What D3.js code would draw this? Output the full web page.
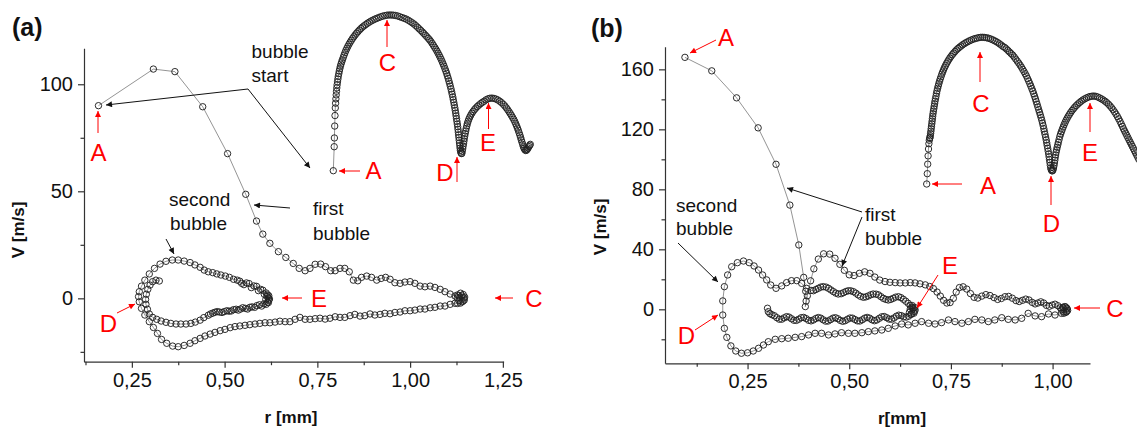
<!DOCTYPE html>
<html>
<head>
<meta charset="utf-8">
<script src="https://cdn.jsdelivr.net/npm/d3@7"></script>
<style>
  body { margin: 0; background: #fff; }
  svg text { font-family: "Liberation Sans", Arial, sans-serif; }
</style>
</head>
<body>
<script>
// ---------- data: phase portraits, [r mm, V m/s] ----------
var aFirstExpansion = [
  [0.160,90.0],[0.308,107.1],[0.366,105.9],[0.441,89.5],[0.508,67.6],[0.557,48.6],[0.586,36.1],[0.603,30.0],
  [0.622,25.7],[0.645,21.8],[0.665,19.1],[0.685,16.3],[0.701,14.0],[0.717,12.9],[0.730,14.0],[0.744,15.9],
  [0.759,16.0],[0.772,14.8],[0.786,12.9],[0.798,12.9],[0.811,14.0],[0.824,14.0],[0.836,12.4],[0.847,8.5],
  [0.859,8.2],[0.869,9.8],[0.883,10.4],[0.896,9.8],[0.910,8.5],[0.922,9.3],[0.934,9.8],[0.946,8.9],
  [0.959,7.3],[0.973,7.0],[0.986,7.6],[1.000,7.8],[1.013,7.0],[1.027,5.7],[1.040,5.4],[1.054,5.7],
  [1.067,5.1],[1.081,4.2],[1.094,3.1],[1.108,2.0],[1.121,1.1],[1.134,0.5],[1.128,1.6],[1.136,2.4],
  [1.143,1.8],[1.147,0.6],[1.146,-0.8],[1.140,-1.6],[1.132,-1.2],[1.127,0.2],[1.131,1.3],[1.139,1.2],
  [1.145,0.1],[1.143,-1.3],[1.136,-2.2],[1.128,-2.4]
];
var aFirstCollapse = [
  [1.121,-2.3],[1.108,-2.8],[1.094,-3.6],[1.081,-3.6],[1.067,-4.2],[1.054,-4.4],[1.040,-5.0],[1.027,-5.0],
  [1.013,-5.5],[1.000,-5.8],[0.986,-5.8],[0.973,-6.4],[0.959,-6.6],[0.946,-7.2],[0.932,-7.0],[0.919,-7.5],
  [0.905,-7.8],[0.892,-7.3],[0.878,-8.1],[0.865,-8.3],[0.851,-7.5],[0.838,-8.1],[0.824,-8.9],[0.811,-8.9],
  [0.798,-8.6],[0.784,-9.3],[0.771,-9.7],[0.757,-9.3],[0.744,-9.5],[0.730,-9.8],[0.717,-9.8],[0.703,-8.9],
  [0.690,-9.8],[0.676,-10.9],[0.663,-10.9],[0.649,-10.7],[0.636,-11.1],[0.622,-11.4],[0.609,-11.4],[0.595,-11.7],
  [0.582,-12.0],[0.568,-12.3],[0.555,-12.6],[0.541,-12.9],[0.528,-13.2],[0.515,-13.7],[0.501,-14.5],[0.488,-15.1],
  [0.474,-15.9],[0.461,-16.7],[0.447,-17.6],[0.434,-18.7],[0.420,-19.8],[0.407,-21.0],[0.391,-22.0],[0.375,-22.6],
  [0.360,-22.3],[0.344,-21.0],[0.330,-19.2],[0.319,-16.4],[0.308,-13.6],[0.297,-10.9],[0.285,-7.8],[0.276,-4.7],
  [0.270,-1.6],[0.268,0.8]
];
var aSecondExpansion = [
  [0.270,3.1],[0.276,5.7],[0.285,8.5],[0.297,11.4],[0.311,14.0],[0.326,16.0],[0.342,17.3],[0.359,17.9],
  [0.375,17.9],[0.391,17.4],[0.407,16.7],[0.420,15.6],[0.434,14.5],[0.445,13.2],[0.456,12.4],[0.468,12.0],
  [0.479,11.4],[0.490,10.9],[0.502,10.4],[0.513,9.8],[0.524,8.9],[0.534,8.5],[0.541,8.0],[0.546,7.0],
  [0.552,6.4],[0.559,7.2],[0.566,6.9],[0.572,5.0],[0.579,5.8],[0.586,5.6],[0.591,3.6],[0.597,4.2],
  [0.603,3.8],[0.607,1.9],[0.612,2.5],[0.616,1.6],[0.618,0.2],[0.619,-0.9],[0.616,-1.8],[0.611,-0.6],
  [0.614,0.9],[0.619,1.2],[0.621,-0.3],[0.618,-2.0],[0.612,-2.8]
];
var aSecondCollapse = [
  [0.606,-2.6],[0.600,-3.6],[0.594,-3.0],[0.587,-3.4],[0.581,-4.2],[0.574,-4.0],[0.568,-4.2],[0.562,-5.0],
  [0.556,-4.7],[0.549,-4.4],[0.543,-5.0],[0.537,-5.5],[0.531,-5.1],[0.524,-5.3],[0.518,-5.9],[0.512,-6.0],
  [0.506,-5.8],[0.499,-6.2],[0.493,-6.6],[0.486,-6.4],[0.480,-6.2],[0.474,-6.5],[0.468,-6.9],[0.462,-7.3],
  [0.456,-7.9],[0.444,-9.0],[0.434,-10.2],[0.421,-11.1],[0.409,-11.7],[0.396,-12.0],[0.382,-12.0],[0.369,-12.0],
  [0.355,-11.7],[0.342,-11.2],[0.329,-10.6],[0.317,-9.8],[0.306,-8.9],[0.297,-7.3],[0.292,-5.1],[0.288,-2.8],
  [0.287,-0.5],[0.289,1.9],[0.293,4.2],[0.299,6.2],[0.306,7.8],[0.315,8.5],[0.324,8.1]
];

var bFirstExpansion = [
  [0.096,168.0],[0.162,159.0],[0.223,141.0],[0.276,121.0],[0.320,96.7],[0.354,69.5],[0.376,42.9],[0.388,21.3],
  [0.393,12.0],[0.394,5.5],[0.392,1.8],[0.397,9.0],[0.405,19.0],[0.413,27.0],[0.424,33.5],[0.437,37.0],
  [0.452,36.8],[0.465,34.0],[0.477,30.0],[0.488,26.0],[0.500,23.0],[0.512,22.5],[0.525,24.0],[0.538,25.0],
  [0.551,24.0],[0.563,21.5],[0.575,19.5],[0.588,18.5],[0.600,18.0],[0.613,17.8],[0.625,17.6],[0.638,17.6],
  [0.650,17.8],[0.662,17.6],[0.674,17.0],[0.687,16.3],[0.698,15.2],[0.707,13.8],[0.716,11.5],[0.724,8.8],
  [0.732,6.0],[0.740,4.2],[0.748,4.5],[0.756,7.3],[0.763,11.5],[0.771,14.5],[0.780,15.0],[0.789,13.5],
  [0.798,10.5],[0.807,8.0],[0.816,7.5],[0.826,8.8],[0.836,9.8],[0.846,9.2],[0.856,7.8],[0.865,6.6],
  [0.874,7.2],[0.883,8.4],[0.892,8.6],[0.901,7.4],[0.910,5.8],[0.918,5.2],[0.926,6.0],[0.934,6.8],
  [0.942,6.2],[0.950,4.6],[0.957,3.6],[0.964,4.2],[0.971,5.0],[0.978,4.2],[0.985,2.6],[0.992,2.0],
  [0.999,2.8],[1.006,3.4],[1.013,2.4],[1.019,1.0],[1.025,0.9],[1.030,1.8],[1.035,0.8],[1.037,-0.8],
  [1.033,-2.0],[1.027,-1.6],[1.022,-0.2],[1.026,1.4],[1.032,1.6],[1.036,0.2],[1.034,-1.6],[1.028,-2.6]
];
var bFirstCollapse = [
  [1.022,-2.7],[1.006,-3.8],[0.990,-3.1],[0.973,-4.9],[0.957,-4.4],[0.940,-2.7],[0.924,-6.0],[0.908,-7.1],
  [0.891,-6.7],[0.875,-5.6],[0.858,-7.1],[0.842,-8.2],[0.826,-7.1],[0.809,-6.7],[0.793,-8.2],[0.777,-9.3],
  [0.760,-8.2],[0.744,-7.1],[0.727,-8.9],[0.711,-9.8],[0.695,-9.3],[0.678,-8.2],[0.662,-9.3],[0.645,-10.4],
  [0.629,-9.8],[0.613,-11.1],[0.596,-12.7],[0.580,-13.8],[0.563,-14.4],[0.547,-14.9],[0.531,-15.6],[0.514,-16.0],
  [0.498,-16.0],[0.481,-15.6],[0.465,-16.4],[0.449,-17.1],[0.432,-16.0],[0.416,-16.0],[0.400,-17.1],[0.383,-18.2],
  [0.367,-18.7],[0.350,-19.3],[0.334,-19.6],[0.318,-20.0],[0.301,-21.6],[0.289,-23.8],[0.277,-26.0],[0.264,-27.8],
  [0.250,-29.0],[0.235,-29.3],[0.221,-27.8],[0.209,-24.4],[0.199,-18.7],[0.193,-12.7],[0.189,-3.8],[0.189,5.6],
  [0.193,15.1]
];
var bSecondExpansion = [
  [0.201,22.9],[0.211,28.4],[0.225,31.1],[0.240,32.2],[0.254,31.1],[0.266,28.9],[0.277,26.2],[0.287,22.9],
  [0.297,19.6],[0.307,16.2],[0.320,14.0],[0.334,15.6],[0.346,17.8],[0.358,19.1],[0.371,19.1],[0.383,17.3],
  [0.395,14.0],[0.406,12.6],[0.412,12.4],[0.418,13.2],[0.424,14.0],[0.430,14.8],[0.436,15.1],[0.443,14.8],
  [0.449,14.0],[0.455,12.9],[0.461,11.8],[0.467,10.8],[0.473,10.2],[0.480,10.4],[0.486,11.1],[0.492,11.9],
  [0.498,12.4],[0.504,12.3],[0.510,11.8],[0.516,10.8],[0.522,9.6],[0.528,8.6],[0.535,8.0],[0.541,8.3],
  [0.547,8.9],[0.553,9.7],[0.559,10.2],[0.566,10.1],[0.572,9.6],[0.578,8.4],[0.584,7.3],[0.590,6.6],
  [0.596,6.2],[0.602,6.6],[0.608,7.3],[0.614,8.1],[0.621,8.4],[0.627,7.8],[0.633,6.7],[0.639,5.4],
  [0.645,4.0],[0.650,2.6],[0.654,1.3],[0.657,0.3],[0.655,2.5],[0.661,1.2],[0.660,-1.5],[0.654,-2.8],
  [0.648,-2.0],[0.650,0.2],[0.657,1.0],[0.662,-0.5],[0.659,-2.6]
];
var bSecondCollapse = [
  [0.652,-3.5],[0.646,-4.6],[0.640,-5.2],[0.634,-5.0],[0.628,-4.2],[0.622,-3.9],[0.616,-4.6],[0.610,-5.8],
  [0.604,-6.6],[0.598,-6.5],[0.592,-5.6],[0.586,-4.8],[0.580,-5.0],[0.574,-6.0],[0.568,-7.1],[0.562,-7.6],
  [0.556,-7.0],[0.550,-5.9],[0.544,-5.4],[0.538,-5.9],[0.532,-7.0],[0.526,-7.8],[0.520,-7.7],[0.514,-6.8],
  [0.508,-5.9],[0.502,-5.8],[0.496,-6.6],[0.490,-7.6],[0.484,-8.0],[0.478,-7.4],[0.472,-6.3],[0.466,-5.6],
  [0.460,-5.9],[0.454,-6.9],[0.448,-7.8],[0.442,-7.9],[0.436,-7.0],[0.430,-5.9],[0.424,-5.5],[0.418,-6.1],
  [0.412,-7.1],[0.406,-7.7],[0.400,-7.3],[0.394,-6.2],[0.388,-5.4],[0.382,-5.6],[0.376,-6.6],[0.370,-7.4],
  [0.364,-7.3],[0.358,-6.3],[0.352,-5.2],[0.346,-4.9],[0.340,-5.7],[0.334,-6.6],[0.328,-6.6],[0.322,-5.6],
  [0.316,-4.3],[0.310,-3.6],[0.305,-2.9],[0.301,-1.6],[0.299,0.7]
];

// ---------- data: insets, radius vs time, [t, r mm] ----------
var insetA = [
  [0,0.160],[0.9,0.311],[1.1,0.366],[1.4,0.441],[1.7,0.507],[2.0,0.555],[2.3,0.585],[2.6,0.612],[2.9,0.637],
  [3.2,0.660],[3.5,0.681],[3.8,0.700],[4.2,0.719],[4.6,0.737],[5.0,0.754],[5.5,0.771],[6.0,0.787],[6.5,0.802],
  [7.1,0.817],[7.7,0.831],[8.4,0.845],[9.1,0.858],[10.0,0.873],[10.8,0.888],[11.7,0.903],[12.6,0.917],[13.6,0.930],
  [14.6,0.943],[15.7,0.956],[16.8,0.968],[18.0,0.980],[19.2,0.992],[20.5,1.003],[21.8,1.014],[23.2,1.025],[24.6,1.035],
  [26.1,1.045],[27.6,1.055],[29.2,1.064],[30.8,1.072],[32.5,1.080],[34.2,1.088],[36.0,1.095],[37.8,1.102],[39.7,1.108],
  [41.6,1.114],[43.5,1.119],[45.5,1.124],[47.5,1.129],[49.5,1.133],[51.6,1.136],[53.7,1.139],[55.8,1.140],[57.9,1.140],
  [60.0,1.139],[62.1,1.137],[64.3,1.134],[66.5,1.129],[68.7,1.124],[70.9,1.119],[73.0,1.114],[75.0,1.107],[77.0,1.099],
  [78.9,1.091],[80.7,1.083],[82.5,1.073],[84.2,1.063],[85.9,1.053],[87.5,1.043],[89.1,1.033],[90.6,1.023],[92.1,1.013],
  [93.6,1.003],[95.0,0.993],[96.4,0.983],[97.7,0.972],[99.0,0.960],[100.2,0.948],[101.4,0.936],[102.6,0.924],[103.7,0.912],
  [104.8,0.899],[105.9,0.886],[106.9,0.873],[107.9,0.860],[108.9,0.846],[109.8,0.832],[110.7,0.818],[111.6,0.803],[112.5,0.788],
  [113.3,0.773],[114.1,0.757],[114.9,0.741],[115.6,0.725],[116.3,0.709],[117.0,0.692],[117.7,0.675],[118.3,0.658],[118.9,0.641],
  [119.5,0.624],[120.0,0.607],[120.5,0.590],[121.0,0.573],[121.5,0.556],[122.0,0.539],[122.4,0.522],[122.8,0.505],[123.2,0.488],
  [123.6,0.471],[124.0,0.454],[124.4,0.437],[124.7,0.420],[125.0,0.403],[125.3,0.386],[125.6,0.369],[125.9,0.352],[126.2,0.335],
  [126.5,0.318],[126.8,0.302],[127.1,0.288],[127.5,0.276],[128.0,0.269],[128.5,0.268],[129.0,0.282],[129.4,0.298],[129.8,0.314],
  [130.2,0.330],[130.6,0.346],[131.0,0.362],[131.4,0.378],[131.9,0.394],[132.4,0.410],[132.9,0.426],[133.5,0.442],[134.1,0.457],
  [134.8,0.471],[135.6,0.485],[136.5,0.498],[137.5,0.510],[138.6,0.522],[139.8,0.533],[141.1,0.544],[142.5,0.554],[144.0,0.564],
  [145.6,0.573],[147.3,0.582],[149.0,0.590],[150.8,0.597],[152.7,0.606],[154.6,0.612],[156.6,0.616],[158.6,0.617],[160.6,0.615],
  [162.6,0.611],[164.6,0.605],[166.5,0.597],[168.3,0.588],[170.0,0.578],[171.6,0.567],[173.1,0.555],[174.5,0.543],[175.8,0.531],
  [177.0,0.519],[178.2,0.507],[179.3,0.495],[180.4,0.483],[181.4,0.470],[182.4,0.456],[183.3,0.442],[184.2,0.428],[185.0,0.414],
  [185.8,0.399],[186.6,0.384],[187.3,0.369],[188.0,0.354],[188.7,0.339],[189.4,0.325],[190.1,0.311],[190.8,0.300],[191.6,0.292],
  [192.4,0.287],[193.2,0.289],[194.0,0.295],[194.8,0.303],[195.6,0.312],[196.4,0.320],[197.0,0.326]
];
var insetB = [
  [0,0.096],[0.6,0.162],[1.0,0.223],[1.4,0.276],[1.8,0.320],[2.2,0.354],[2.6,0.376],[3.0,0.388],[3.3,0.394],
  [3.6,0.405],[3.9,0.419],[4.2,0.434],[4.5,0.450],[4.8,0.466],[5.1,0.482],[5.4,0.498],[5.7,0.514],[6.0,0.530],
  [6.3,0.546],[6.7,0.562],[7.1,0.578],[7.5,0.594],[7.9,0.610],[8.3,0.626],[8.8,0.642],[9.3,0.658],[9.8,0.676],
  [10.3,0.692],[10.9,0.708],[11.5,0.723],[12.1,0.738],[12.8,0.753],[13.5,0.768],[14.3,0.783],[15.1,0.798],[15.9,0.812],
  [16.8,0.826],[17.7,0.840],[18.7,0.853],[19.7,0.866],[20.8,0.878],[21.9,0.890],[23.1,0.902],[24.3,0.913],[25.6,0.924],
  [26.9,0.934],[28.3,0.944],[29.7,0.954],[31.2,0.963],[32.7,0.971],[34.3,0.979],[35.9,0.987],[37.6,0.994],[39.3,1.001],
  [41.1,1.007],[42.9,1.013],[44.7,1.018],[46.6,1.023],[48.5,1.027],[50.4,1.030],[52.3,1.033],[54.2,1.035],[56.1,1.035],
  [58.0,1.034],[59.9,1.032],[61.8,1.029],[63.7,1.025],[65.6,1.020],[67.5,1.014],[69.3,1.008],[71.1,1.001],[72.9,0.993],
  [74.6,0.985],[76.3,0.976],[78.0,0.970],[79.6,0.961],[81.2,0.951],[82.8,0.941],[84.4,0.931],[86.0,0.921],[87.5,0.909],
  [89.0,0.896],[90.5,0.883],[92.0,0.870],[93.4,0.857],[94.7,0.844],[96.0,0.830],[97.3,0.816],[98.5,0.802],[99.7,0.788],
  [100.9,0.771],[102.0,0.755],[103.1,0.739],[104.1,0.723],[105.1,0.707],[106.1,0.691],[107.0,0.674],[107.9,0.657],[108.8,0.640],
  [109.6,0.623],[110.4,0.606],[111.2,0.589],[112.0,0.572],[112.8,0.555],[113.6,0.538],[114.4,0.521],[115.1,0.504],[115.8,0.486],
  [116.5,0.468],[117.1,0.450],[117.7,0.432],[118.3,0.414],[118.9,0.396],[119.5,0.378],[120.0,0.360],[120.5,0.342],[121.0,0.324],
  [121.5,0.306],[122.0,0.288],[122.4,0.270],[122.8,0.252],[123.2,0.234],[123.6,0.216],[124.0,0.200],[124.5,0.188],[125.1,0.181],
  [125.7,0.180],[126.3,0.186],[126.8,0.199],[127.3,0.214],[127.7,0.231],[128.1,0.248],[128.5,0.265],[128.9,0.282],[129.4,0.299],
  [129.9,0.315],[130.5,0.331],[131.1,0.347],[131.7,0.363],[132.4,0.381],[133.1,0.400],[133.9,0.416],[134.7,0.431],[135.6,0.446],
  [136.5,0.461],[137.4,0.476],[138.4,0.490],[139.4,0.504],[140.5,0.517],[141.6,0.530],[142.8,0.542],[144.0,0.554],[145.3,0.566],
  [146.7,0.577],[148.1,0.588],[149.6,0.598],[151.2,0.608],[152.8,0.617],[154.5,0.626],[156.2,0.634],[158.0,0.641],[159.8,0.647],
  [161.6,0.652],[163.4,0.656],[165.3,0.658],[167.2,0.659],[169.1,0.657],[171.0,0.653],[172.9,0.647],[174.7,0.641],[176.5,0.634],
  [178.3,0.626],[180.0,0.617],[181.7,0.607],[183.3,0.596],[184.9,0.584],[186.4,0.571],[187.9,0.557],[189.3,0.543],[190.7,0.528],
  [192.0,0.513],[193.3,0.497],[194.5,0.481],[195.7,0.465],[196.8,0.449],[197.9,0.435],[199.0,0.421],[200.1,0.407],[201.2,0.393],
  [202.3,0.379],[203.4,0.365],[204.5,0.351],[205.6,0.337],[206.7,0.323],[207.8,0.309],[208.9,0.295],[210.0,0.281],[211.1,0.267],
  [212.2,0.253]
];

// ---------- ticks ----------
var aXTicks = [0.25, 0.5, 0.75, 1.0, 1.25];
var aXMinor = [0.125, 0.375, 0.625, 0.875, 1.125];
var aYTicks = [0, 50, 100];
var aYMinor = [-25, 25, 75];
var bXTicks = [0.25, 0.5, 0.75, 1.0];
var bXMinor = [0.125, 0.375, 0.625, 0.875];
var bYTicks = [0, 40, 80, 120, 160];
var bYMinor = [-20, 20, 60, 100, 140];

var w = 1137, h = 430;
var fmt = d3.formatLocale({decimal: ",", thousands: ".", grouping: [3], currency: ["", ""]}).format(".2f");

var svg = d3.select("body").append("svg").attr("width", w).attr("height", h);

// arrowheads
var defs = svg.append("defs");
[["blk", "#111"], ["red", "#ff0000"]].forEach(function (m) {
  defs.append("marker")
    .attr("id", m[0])
    .attr("viewBox", "0 0 10 10")
    .attr("refX", 10).attr("refY", 5)
    .attr("markerUnits", "userSpaceOnUse")
    .attr("markerWidth", 8).attr("markerHeight", 6)
    .attr("orient", "auto")
    .append("path").attr("d", "M0,0L10,5L0,10z").attr("fill", m[1]);
});

function styleAxis(g) {
  g.selectAll("path, line").attr("stroke", "#333").attr("stroke-width", 1.2);
  g.selectAll("text").attr("font-size", 20).attr("fill", "#111")
    .attr("font-family", "'Liberation Sans', Arial, sans-serif");
}

// hollow markers joined by a thin line; dense runs darken where rings pile up
function drawSeries(g, pts, x, y) {
  var line = d3.line().x(function (d) { return x(d[0]); }).y(function (d) { return y(d[1]); });
  g.append("path").datum(pts).attr("d", line)
    .attr("fill", "none").attr("stroke", "#666").attr("stroke-width", 0.7);
  g.selectAll(null).data(pts).enter().append("circle")
    .attr("cx", function (d) { return x(d[0]); })
    .attr("cy", function (d) { return y(d[1]); })
    .attr("r", 3.2)
    .attr("fill", "none").attr("stroke", "#222").attr("stroke-width", 0.95);
}

function panel(o) {
  var x = d3.scaleLinear().domain(o.xDomain).range(o.xRange);
  var y = d3.scaleLinear().domain(o.yDomain).range(o.yRange);
  var g = svg.append("g");

  var xb = o.yRange[0], yl = o.xRange[0];
  g.append("g").attr("transform", "translate(0," + xb + ")")
    .call(d3.axisBottom(x).tickValues(o.xMinor).tickSize(3.5).tickSizeOuter(0).tickFormat(""))
    .call(function (s) { s.select(".domain").remove(); }).call(styleAxis);
  g.append("g").attr("transform", "translate(0," + xb + ")")
    .call(d3.axisBottom(x).tickValues(o.xTicks).tickSize(6).tickSizeOuter(0).tickPadding(5).tickFormat(fmt))
    .call(styleAxis);
  g.append("g").attr("transform", "translate(" + yl + ",0)")
    .call(d3.axisLeft(y).tickValues(o.yMinor).tickSize(3.5).tickSizeOuter(0).tickFormat(""))
    .call(function (s) { s.select(".domain").remove(); }).call(styleAxis);
  g.append("g").attr("transform", "translate(" + yl + ",0)")
    .call(d3.axisLeft(y).tickValues(o.yTicks).tickSize(6).tickSizeOuter(0).tickPadding(5))
    .call(styleAxis);

  // axis titles
  g.append("text").attr("transform", "translate(" + o.yTitle[0] + "," + o.yTitle[1] + ") rotate(-90)")
    .attr("text-anchor", "middle").attr("dy", "0.35em")
    .attr("font-size", 17).attr("font-weight", "bold").attr("fill", "#111").text("V [m/s]");
  g.append("text").attr("x", o.xTitle[0]).attr("y", o.xTitle[1])
    .attr("text-anchor", "middle").attr("font-size", 17).attr("font-weight", "bold")
    .attr("fill", "#111").text(o.xTitleText);
  g.append("text").attr("x", o.tag[0]).attr("y", o.tag[1])
    .attr("font-size", 25).attr("font-weight", "bold").attr("fill", "#111").text(o.tagText);

  // inset r(t)
  var ix = d3.scaleLinear().domain(o.insetT).range(o.insetX);
  var iy = d3.scaleLinear().domain(o.insetR).range(o.insetY);
  drawSeries(g, o.inset, ix, iy);

  // phase trajectory
  drawSeries(g, o.traj, x, y);

  // annotations
  o.arrows.forEach(function (a) {
    g.append("line").attr("x1", a[0]).attr("y1", a[1]).attr("x2", a[2]).attr("y2", a[3])
      .attr("stroke", a[4] === "red" ? "#ff0000" : "#111").attr("stroke-width", 1)
      .attr("marker-end", "url(#" + a[4] + ")");
  });
  o.labels.forEach(function (l) {
    g.append("text").attr("x", l[0]).attr("y", l[1])
      .attr("text-anchor", l[3] ? "middle" : "start")
      .attr("font-size", l[3] ? 24 : 19)
      .attr("fill", l[3] ? "#ff0000" : "#111")
      .text(l[2]);
  });
}

panel({
  xDomain: [0.121, 1.252], xRange: [84, 503.6],
  yDomain: [-29.6, 116.8], yRange: [361.7, 48.3],
  xTicks: aXTicks, xMinor: aXMinor, yTicks: aYTicks, yMinor: aYMinor,
  yTitle: [18, 230], xTitle: [291, 423], xTitleText: "r [mm]",
  tag: [12, 36], tagText: "(a)",
  inset: insetA, insetT: [0, 199], insetX: [333.3, 532.3], insetR: [0.16, 1.14], insetY: [170.7, 15],
  traj: [].concat(aFirstExpansion, aFirstCollapse, aSecondExpansion, aSecondCollapse),
  arrows: [
    [248, 89, 106, 105, "blk"], [248, 89, 310, 168, "blk"],
    [290, 208, 254, 205, "blk"], [166, 239, 174, 254, "blk"],
    [98, 133, 98, 111, "red"], [360, 171, 339, 171, "red"], [387, 47, 387, 20, "red"],
    [457, 182, 457, 157, "red"], [488.5, 129, 488.5, 103, "red"],
    [302, 298, 282, 298, "red"], [513, 298, 495, 298, "red"], [117, 313, 135, 304, "red"]
  ],
  labels: [
    [251.5, 58, "bubble"], [251.5, 82, "start"], [169, 205.5, "second"], [170, 229.5, "bubble"],
    [313, 215, "first"], [313, 240, "bubble"],
    [98.5, 161, "A", 1], [373.5, 179, "A", 1], [387.5, 71, "C", 1], [445, 181, "D", 1],
    [488, 151, "E", 1], [319, 307, "E", 1], [534, 307, "C", 1], [108.5, 332, "D", 1]
  ]
});

panel({
  xDomain: [0.047, 1.092], xRange: [665, 1090],
  yDomain: [-36, 175.1], yRange: [363.3, 46.7],
  xTicks: bXTicks, xMinor: bXMinor, yTicks: bYTicks, yMinor: bYMinor,
  yTitle: [600, 227], xTitle: [902, 424], xTitleText: "r[mm]",
  tag: [591, 37], tagText: "(b)",
  inset: insetB, insetT: [0, 210.3], insetX: [926.7, 1137], insetR: [0.096, 1.035], insetY: [184, 37.3],
  traj: [].concat(bFirstExpansion, bFirstCollapse, bSecondExpansion, bSecondCollapse),
  arrows: [
    [678, 243, 718, 282, "blk"], [862, 212, 787, 188, "blk"], [862, 217, 842, 266, "blk"],
    [716, 40, 690, 53, "red"], [980, 82, 980, 52, "red"], [1090, 132, 1090, 103, "red"],
    [962, 184, 932, 184, "red"], [1051, 205, 1051, 176, "red"],
    [938, 275, 917, 308, "red"], [1100, 308, 1074, 308, "red"], [695, 330, 718, 315, "red"]
  ],
  labels: [
    [676, 211.5, "second"], [676, 235, "bubble"], [865, 221, "first"], [865, 245, "bubble"],
    [726, 46, "A", 1], [981, 112, "C", 1], [1090, 161, "E", 1], [988, 194, "A", 1],
    [1051.5, 232, "D", 1], [950, 274, "E", 1], [1115, 317, "C", 1], [686.5, 344, "D", 1]
  ]
});
</script>
</body>
</html>
